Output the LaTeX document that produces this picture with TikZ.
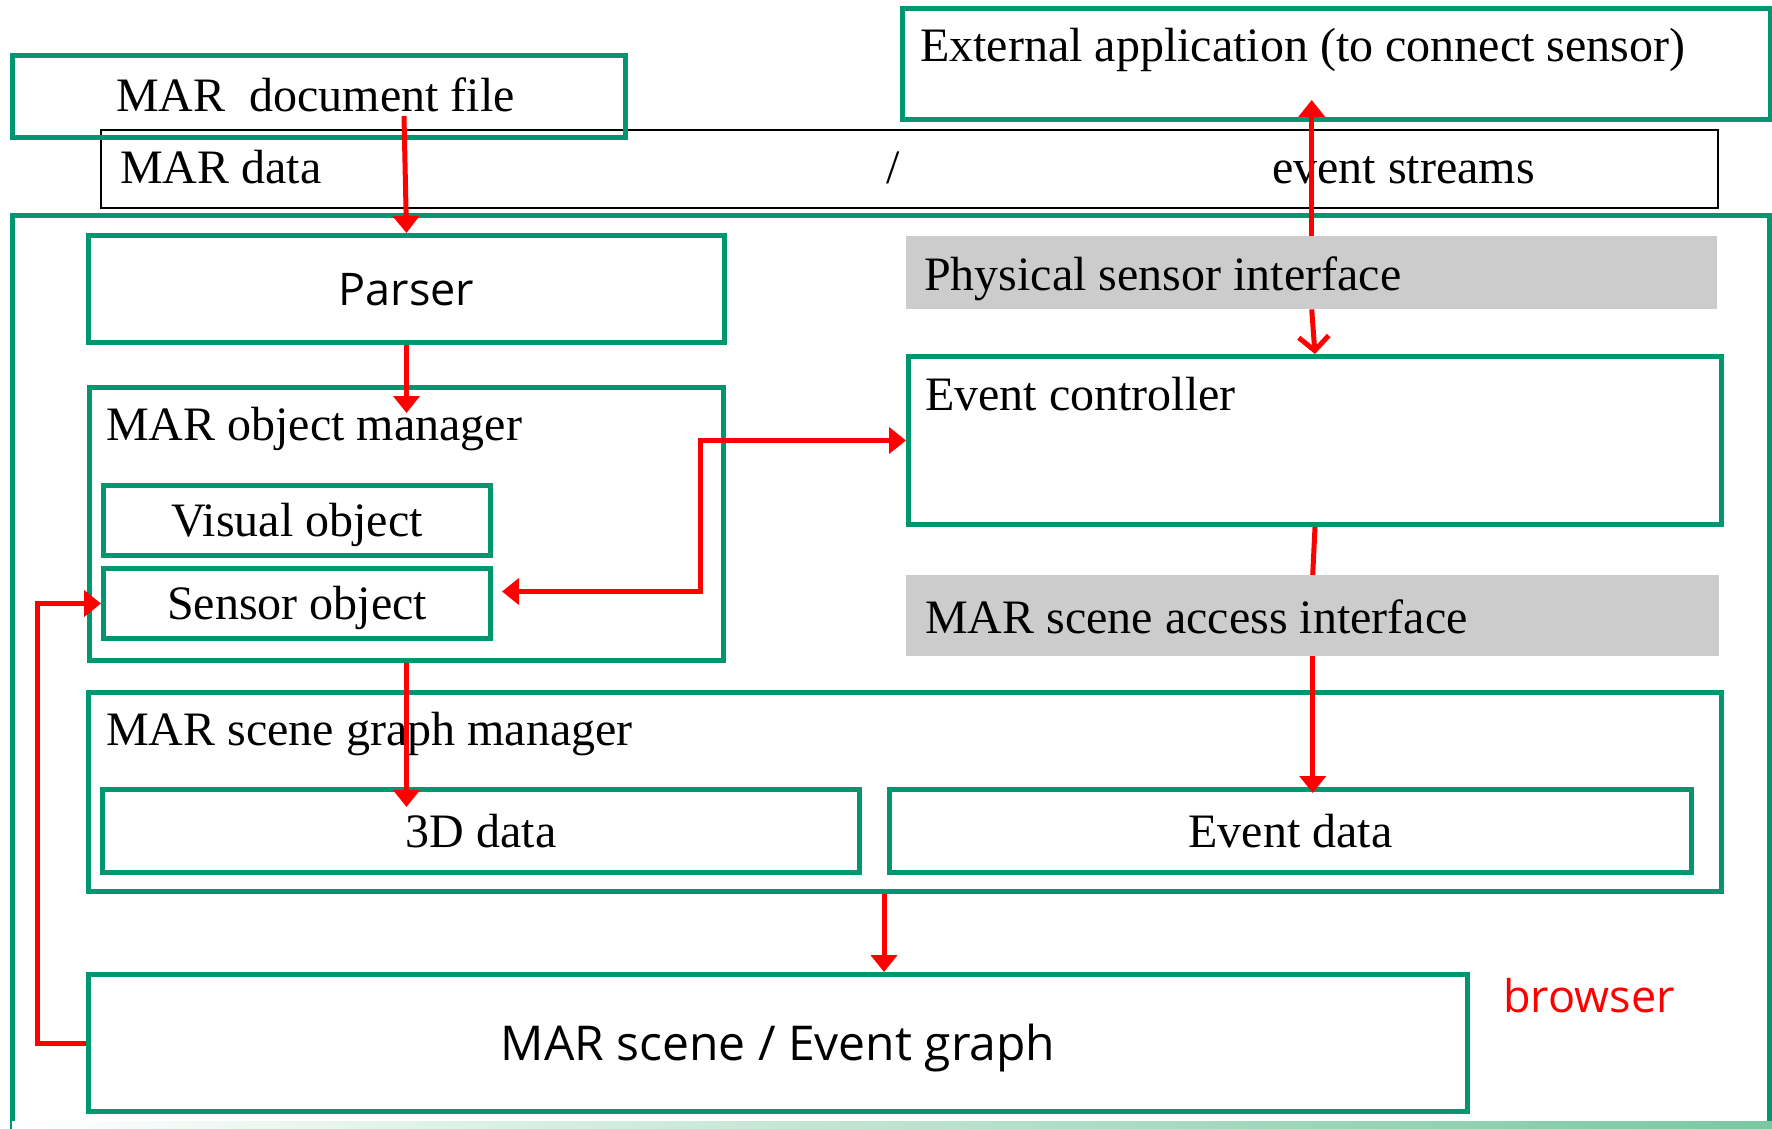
\documentclass[tikz,border=0pt]{standalone}
\usepackage{fontspec}
\setmainfont{Liberation Serif}
\newfontfamily\uisans{Open Sans}
\usetikzlibrary{arrows.meta}
\definecolor{boxgreen}{RGB}{0,150,112}
\definecolor{ifgray}{RGB}{204,204,204}
\definecolor{barend}{RGB}{120,200,160}
\begin{document}
\begin{tikzpicture}[x=1pt,y=-1pt,->,>={Triangle[length=17pt,width=26pt]}]
        \tikzstyle{gbox}=[draw=boxgreen,line width=5pt,inner sep=0pt,anchor=north west,font=\fontsize{48}{57}\selectfont,text height=32pt,text depth=0pt]
        \tikzstyle{graybox}=[fill=ifgray,inner sep=0pt,anchor=north west]
        \tikzstyle{lbl}=[anchor=base west,inner sep=0pt,font=\fontsize{48}{57}\selectfont]
        \tikzstyle{sans}=[font=\uisans\fontsize{45}{54}\selectfont,text height=32pt]
        \tikzstyle{flow}=[draw=red,line width=5pt]
        \useasboundingbox (0,0) rectangle (1772,1129);
       \begin{scope}
         \node [draw=black,line width=1.6pt,inner sep=0pt,anchor=north west,minimum width=1617pt,minimum height=78pt] (mardata) at (100,129) {};
         \node [gbox,minimum width=613pt,minimum height=82pt] (docfile) at (10,53) {};
         \node [gbox,minimum width=868pt,minimum height=111pt] (extapp) at (900,6) {};
         \node [gbox,minimum width=1757pt,minimum height=930pt] (browser) at (10,213) {};
         \node [gbox,sans,minimum width=636pt,minimum height=107pt] (parser) at (86,233) {Parser};
         \node [gbox,minimum width=634pt,minimum height=273pt] (objmgr) at (87,385) {};
         \node [gbox,minimum width=387pt,minimum height=70pt] (visual) at (101,483) {Visual object};
         \node [gbox,minimum width=387pt,minimum height=70pt] (sensor) at (101,566) {Sensor object};
         \node [graybox,minimum width=811pt,minimum height=73pt] (physif) at (906,236) {};
         \node [gbox,minimum width=813pt,minimum height=168pt] (evctrl) at (906,354) {};
         \node [graybox,minimum width=813pt,minimum height=81pt] (accessif) at (906,575) {};
         \node [gbox,minimum width=1633pt,minimum height=199pt] (sgmgr) at (86,690) {};
         \node [gbox,minimum width=757pt,minimum height=83pt] (data3d) at (100,787) {3D data};
         \node [gbox,minimum width=802pt,minimum height=83pt] (evdata) at (887,787) {Event data};
         \node [gbox,sans,font=\uisans\fontsize{48}{57}\selectfont,text height=34pt,minimum width=1379pt,minimum height=137pt] (scene) at (86,972) {MAR scene / Event graph};
         \shade [left color=white,right color=barend] (12,1121) rectangle (1772,1130);
       \end{scope}
       \begin{scope}
         \node [lbl] (doctext) at (116,112) {MAR~ document file};
         \node [lbl] (datatext) at (120,183) {MAR data};
         \node [lbl] (slash) at (886,183) {/};
         \node [lbl] (streamtext) at (1272,183) {event streams};
         \node [lbl] (exttext) at (920,62) {External application (to connect sensor)};
         \node [lbl] (phystext) at (924,290) {Physical sensor interface};
         \node [lbl] (ctrltext) at (925,410) {Event controller};
         \node [lbl] (accesstext) at (925,633) {MAR scene access interface};
         \node [lbl] (objtext) at (106,440) {MAR object manager};
         \node [lbl] (sgtext) at (106,745) {MAR scene graph manager};
         \node [lbl,sans,text=red] (browsertext) at (1503,1012) {browser};
       \end{scope}
       \begin{scope}
         \coordinate (docout) at (404,116);
         \path[flow] (docout) -- (parser.north);
         \path[flow,shorten >=-28pt] (parser.south) -- (objmgr.north);
         \path[flow,shorten >=-20pt] (objmgr.south) -- (objmgr.south |- data3d.north);
         \path[flow,<->] (evctrl.west) -- ++(-206,0) |- ([xshift=9pt,yshift=12pt]sensor.east);
         \path[flow] (scene.west) -- ++(-49,0) |- (sensor.west);
         \path[flow,shorten >=-22pt] (physif.north) -- (physif.north |- extapp.south);
         \path[flow,-{Straight Barb[length=14pt,width=30pt]}] (physif.south) -- (evctrl.north);
         \path[flow,-] (evctrl.south) -- (accessif.north);
         \path[flow,shorten >=-6pt] (accessif.south) -- (accessif.south |- evdata.north);
         \path[flow] ([xshift=-21pt]sgmgr.south) -- ([xshift=-21pt]sgmgr.south |- scene.north);
       \end{scope}
      \end{tikzpicture}
\end{document}
